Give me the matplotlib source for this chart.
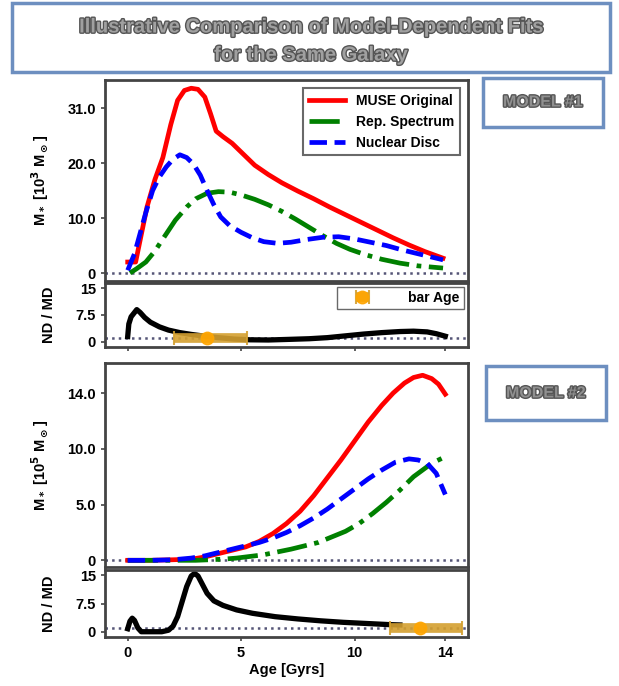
import matplotlib
matplotlib.use("Agg")
import matplotlib.pyplot as plt
import matplotlib.patheffects as pe
from matplotlib.patches import Rectangle

plt.rcParams['font.family'] = ['Liberation Sans', 'DejaVu Sans']
plt.rcParams['font.weight'] = 'bold'
plt.rcParams['axes.labelweight'] = 'bold'
plt.rcParams['mathtext.default'] = 'bf'

# --- Model #1 (top) ---
age_red1 = [0.0, 0.35, 0.55, 0.85, 1.2, 1.55, 1.9, 2.2, 2.5, 2.8, 3.1, 3.4, 3.65, 3.9,
            4.2, 4.6, 5.1, 5.6, 6.2, 6.8, 7.5, 8.2, 8.9, 9.6, 10.3, 11.0, 11.7, 12.4, 13.1, 13.9]
red1 = [2.0, 2.0, 6.0, 12.0, 17.0, 21.0, 27.0, 31.4, 33.2, 33.6, 33.4, 32.0, 29.0, 25.8,
        24.8, 23.6, 21.6, 19.6, 17.9, 16.4, 14.9, 13.5, 12.0, 10.6, 9.2, 7.8, 6.4, 5.1, 3.9, 2.7]

age_grn1 = [0.1, 0.4, 0.8, 1.2, 1.6, 2.1, 2.6, 3.0, 3.5, 4.0, 4.5, 5.0, 5.6, 6.2, 6.8,
            7.4, 8.0, 8.6, 9.2, 9.8, 10.5, 11.2, 12.0, 12.8, 13.9]
grn1 = [0.0, 0.8, 2.0, 4.0, 6.5, 9.6, 12.0, 13.5, 14.5, 14.8, 14.7, 14.2, 13.4, 12.4, 11.2,
        9.8, 8.3, 6.8, 5.4, 4.3, 3.3, 2.5, 1.8, 1.3, 0.9]

age_blu1 = [0.0, 0.3, 0.5, 0.8, 1.1, 1.4, 1.7, 2.0, 2.3, 2.6, 2.9, 3.2, 3.5, 3.8, 4.1, 4.5,
            5.0, 5.5, 6.0, 6.6, 7.2, 7.9, 8.6, 9.3, 10.0, 10.7, 11.4, 12.1, 12.8, 13.9]
blu1 = [0.5, 3.5, 6.5, 11.0, 15.0, 17.5, 19.3, 20.7, 21.5, 21.0, 19.8, 17.8, 15.0, 12.4, 10.2, 8.6,
        7.4, 6.4, 5.7, 5.4, 5.6, 6.1, 6.5, 6.6, 6.2, 5.6, 5.0, 4.2, 3.5, 2.4]

age_rat1 = [0.0, 0.05, 0.15, 0.4, 0.55, 0.75, 1.0, 1.4, 1.8, 2.3, 2.8, 3.4, 4.0, 4.7, 5.4,
            6.2, 7.0, 8.0, 8.8, 9.6, 10.4, 11.2, 12.0, 12.6, 13.2, 13.6, 14.0]
rat1 = [1.5, 5.0, 7.0, 9.0, 8.2, 6.8, 5.5, 4.2, 3.3, 2.6, 2.1, 1.6, 1.2, 0.8, 0.6,
        0.55, 0.7, 0.9, 1.2, 1.7, 2.2, 2.6, 2.9, 3.0, 2.8, 2.3, 1.6]

bar1_age, bar1_lo, bar1_hi = 3.5, 2.05, 5.25

# --- Model #2 (bottom) ---
age_red2 = [0.0, 1.0, 2.0, 2.8, 3.4, 4.0, 4.6, 5.2, 5.8, 6.4, 7.0, 7.6, 8.2, 8.8, 9.4, 10.0,
            10.6, 11.2, 11.7, 12.2, 12.6, 13.0, 13.4, 13.7, 14.0]
red2 = [0.0, 0.0, 0.05, 0.1, 0.3, 0.6, 0.9, 1.2, 1.7, 2.4, 3.3, 4.4, 5.8, 7.4, 9.0, 10.7,
        12.4, 13.9, 15.0, 15.9, 16.4, 16.6, 16.3, 15.8, 14.9]

age_grn2 = [0.0, 1.0, 2.0, 3.0, 3.6, 4.2, 4.8, 5.4, 6.0, 6.6, 7.2, 7.8, 8.4, 9.0, 9.6, 10.2,
            10.8, 11.4, 12.0, 12.6, 13.2, 13.6, 14.0]
grn2 = [0.0, 0.0, 0.0, 0.0, 0.05, 0.1, 0.2, 0.35, 0.5, 0.75, 1.0, 1.3, 1.6, 2.1, 2.6, 3.3,
        4.2, 5.2, 6.3, 7.5, 8.4, 8.9, 9.3]

age_blu2 = [0.0, 1.0, 2.0, 2.8, 3.4, 4.0, 4.6, 5.2, 5.8, 6.4, 7.0, 7.6, 8.2, 8.8, 9.4, 10.0,
            10.6, 11.2, 11.8, 12.4, 12.8, 13.2, 13.6, 14.0]
blu2 = [0.0, 0.0, 0.05, 0.2, 0.4, 0.7, 1.0, 1.3, 1.6, 2.0, 2.5, 3.1, 3.8, 4.6, 5.5, 6.4,
        7.3, 8.1, 8.8, 9.1, 9.0, 8.7, 7.8, 5.9]

age_rat2 = [0.0, 0.1, 0.2, 0.3, 0.45, 0.6, 1.0, 1.5, 1.8, 2.0, 2.2, 2.4, 2.6, 2.8, 2.95,
            3.1, 3.3, 3.5, 3.8, 4.2, 4.8, 5.5, 6.5, 7.5, 8.5, 9.5, 10.5, 11.5, 12.0]
rat2 = [0.8, 2.8, 3.6, 3.0, 1.0, 0.0, 0.0, 0.0, 0.4, 1.5, 4.0, 8.0, 12.0, 14.8, 15.5,
        14.8, 12.5, 10.2, 8.2, 7.0, 5.8, 4.9, 4.0, 3.4, 2.9, 2.5, 2.2, 1.9, 1.8]

bar2_age, bar2_lo, bar2_hi = 12.9, 11.55, 14.75

labels = ["MUSE Original", "Rep. Spectrum", "Nuclear Disc"]
xticks = [0, 5, 10, 14]
top_yticks, top_ylabels = [0, 10, 20, 30], ["0", "10.0", "20.0", "31.0"]
bot_yticks, bot_ylabels = [0, 5, 10, 15], ["0", "5.0", "10.0", "14.0"]
rat_yticks, rat_ylabels = [0, 7.5, 15], ["0", "7.5", "15"]

W, H = 619, 686
fig = plt.figure(figsize=(W / 100, H / 100), dpi=100)


def ax_px(x0, y0, x1, y1):
    return fig.add_axes([x0 / W, 1 - y1 / H, (x1 - x0) / W, (y1 - y0) / H])


def style(ax):
    for s in ax.spines.values():
        s.set_color('#444444')
        s.set_linewidth(2.0)
    ax.tick_params(labelsize=10.5, width=1.2, length=3, color='#444444')
    ax.set_xlim(-1, 15)


def main_panel(ax, data, yt, yl, ylim, ylabel):
    (ar, r), (ag, g), (ab, b) = data
    ax.axhline(0, color='#555577', ls=':', lw=1.8, zorder=1)
    ax.plot(ar, r, color='red', lw=3.4, label=labels[0])
    ax.plot(ag, g, color='green', lw=3.4, ls='-.', label=labels[1])
    ax.plot(ab, b, color='blue', lw=3.4, ls='--', label=labels[2])
    ax.set_ylim(*ylim)
    ax.set_yticks(yt)
    ax.set_yticklabels(yl)
    ax.set_xticks([])
    ax.set_ylabel(ylabel, fontsize=10.5, labelpad=4)
    style(ax)


def ratio_panel(ax, a, r, bar, show_x):
    ax.axhline(1, color='#555577', ls=':', lw=1.8, zorder=1)
    ax.plot(a, r, color='black', lw=3.8, zorder=2)
    c, lo, hi = bar
    eb = ax.errorbar([c], [1], xerr=[[c - lo], [hi - c]], fmt='o', color='orange',
                     ms=9, ecolor='#d4a030', elinewidth=7, capsize=5, capthick=1.5,
                     alpha=0.9, zorder=3, label='bar Age')
    ax.set_ylim(-1.4, 16.4)
    ax.set_yticks(rat_yticks)
    ax.set_yticklabels(rat_ylabels)
    ax.set_xticks(xticks)
    if not show_x:
        ax.set_xticklabels([])
    ax.set_ylabel("ND / MD", fontsize=10.5, labelpad=4)
    style(ax)
    return eb


# top model
ax1 = ax_px(105, 80, 468, 281)
main_panel(ax1, [(age_red1, red1), (age_grn1, grn1), (age_blu1, blu1)],
           top_yticks, top_ylabels, (-1.45, 35.1), r"M$_*$ [10$^3$ M$_\odot$]")
leg = ax1.legend(loc='upper right', fontsize=10, handlelength=2.6, frameon=True,
                 fancybox=False, borderaxespad=0.6, labelspacing=0.5)
leg.get_frame().set_edgecolor('#444444')
leg.get_frame().set_linewidth(1.5)

ax2 = ax_px(105, 283, 468, 347)
eb = ratio_panel(ax2, age_rat1, rat1, (bar1_age, bar1_lo, bar1_hi), False)
leg2 = ax2.legend(loc='upper right', fontsize=10, handlelength=3.0, handletextpad=1.8,
                  frameon=True, fancybox=False, borderaxespad=0.3, borderpad=0.3)
leg2.get_frame().set_edgecolor('#444444')

# bottom model
ax3 = ax_px(105, 363, 468, 567)
main_panel(ax3, [(age_red2, red2), (age_grn2, grn2), (age_blu2, blu2)],
           bot_yticks, bot_ylabels, (-0.6, 17.7), r"M$_*$ [10$^5$ M$_\odot$]")

ax4 = ax_px(105, 570, 468, 637)
ratio_panel(ax4, age_rat2, rat2, (bar2_age, bar2_lo, bar2_hi), True)
ax4.set_xlabel("Age [Gyrs]", fontsize=10.5, labelpad=2)

for a in (ax1, ax3):
    a.yaxis.set_label_coords(-0.15, 0.5)
for a in (ax2, ax4):
    a.yaxis.set_label_coords(-0.135, 0.5)

# title and model boxes
box_color = '#6d8fc0'
fx = lambda p: p / W
fy = lambda p: 1 - p / H
fig.patches.append(Rectangle((fx(12), fy(72)), fx(598), 69 / H, transform=fig.transFigure,
                             fill=False, edgecolor=box_color, lw=2.5))
fig.patches.append(Rectangle((fx(483), fy(127)), fx(120), 49 / H, transform=fig.transFigure,
                             fill=False, edgecolor=box_color, lw=2.5))
fig.patches.append(Rectangle((fx(486), fy(420)), fx(120), 54 / H, transform=fig.transFigure,
                             fill=False, edgecolor=box_color, lw=2.5))

effects = [pe.withStroke(linewidth=2.0, foreground='#555555')]
fig.text(fx(311), fy(27), "Illustrative Comparison of Model-Dependent Fits", ha='center',
         va='center', fontsize=14.5, color='#a0a0a0', path_effects=effects)
fig.text(fx(311), fy(55), "for the Same Galaxy", ha='center', va='center', fontsize=14.5,
         color='#a0a0a0', path_effects=effects)
fig.text(fx(543), fy(102), "MODEL #1", ha='center', va='center', fontsize=11.5,
         color='#909090', path_effects=effects)
fig.text(fx(546), fy(393), "MODEL #2", ha='center', va='center', fontsize=11.5,
         color='#909090', path_effects=effects)

fig.savefig("out.png", dpi=100)
